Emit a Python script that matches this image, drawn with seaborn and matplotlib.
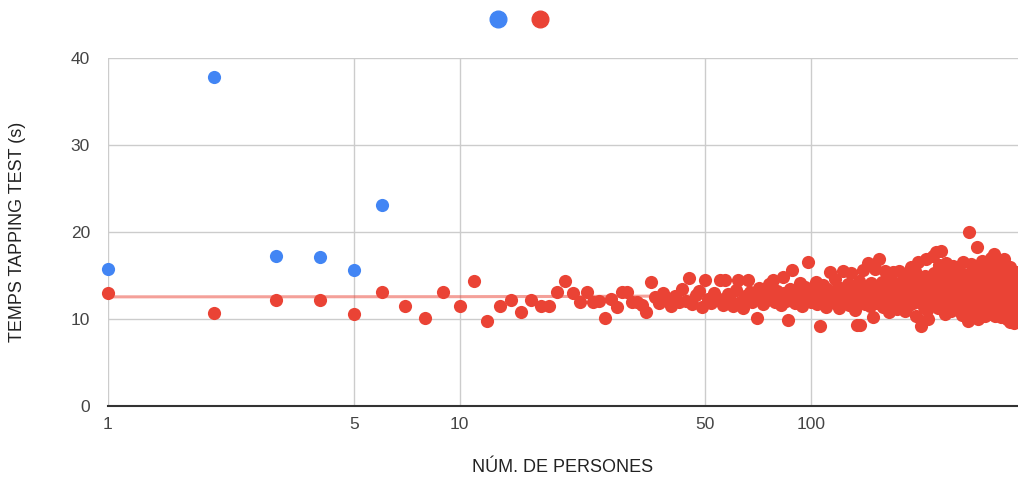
import numpy as np
import pandas as pd
import matplotlib
matplotlib.use("Agg")
import matplotlib.pyplot as plt
from matplotlib.lines import Line2D
import seaborn as sns

# ---------------- data ----------------
blue_x = [1, 2, 3, 4, 5, 6]
blue_y = [15.7, 37.8, 17.2, 17.1, 15.6, 23.1]

red_y = [
    13.0, 10.7, 12.2, 12.2, 10.6, 13.1, 11.5, 10.1, 13.1, 11.5, 14.4, 9.8, 11.5, 12.2, 10.8, 12.2, 11.5, 11.5, 13.1, 14.4,
    13.0, 12.0, 13.1, 12.0, 12.1, 10.1, 12.3, 11.4, 13.1, 13.1, 12.0, 12.0, 11.6, 10.8, 14.3, 12.5, 11.8, 13.0, 12.2, 11.5,
    12.6, 11.9, 13.4, 12.1, 14.7, 11.7, 12.8, 13.2, 11.4, 14.5, 12.3, 11.8, 13.0, 12.4, 14.5, 11.6, 14.5, 12.9, 12.2, 11.5,
    13.3, 14.5, 12.0, 11.3, 12.7, 14.5, 13.1, 11.9, 12.4, 10.1, 13.6, 12.5, 11.7, 13.0, 12.2, 14.0, 12.8, 14.5, 11.9, 13.2,
    12.4, 11.6, 14.8, 13.0, 12.1, 9.9, 13.5, 15.6, 12.3, 11.8, 13.1, 12.6, 14.1, 11.5, 12.9, 13.7, 12.2, 16.6, 12.8, 11.9,
    13.3, 12.5, 14.2, 11.7, 13.0, 9.2, 12.6, 13.9, 12.1, 11.4, 13.5, 12.8, 15.4, 12.3, 11.9, 13.2, 14.6, 12.0, 12.7, 11.3,
    13.6, 12.4, 15.5, 11.8, 13.1, 12.9, 14.0, 11.6, 12.5, 15.3, 13.4, 12.2, 11.0, 13.8, 9.3, 12.7, 14.4, 9.3, 13.0, 12.1,
    15.6, 11.7, 12.9, 13.5, 16.4, 12.3, 11.5, 14.1, 12.8, 10.2, 13.3, 15.8, 12.0, 11.8, 13.7, 16.9, 12.6, 12.2, 14.3, 11.4,
    13.1, 15.5, 12.7, 11.9, 13.9, 12.4, 10.8, 14.6, 13.0, 12.2, 15.4, 11.6, 13.5, 12.8, 14.0, 11.2, 12.9, 15.5, 13.3, 12.1,
    11.7, 14.2, 12.6, 13.8, 10.9, 15.1, 12.3, 13.4, 11.5, 14.7, 12.9, 16.0, 12.0, 13.1, 11.8, 14.4, 12.5, 15.5, 10.4, 13.2,
    12.7, 16.6, 11.9, 13.6, 12.3, 9.2, 14.1, 12.8, 13.3, 11.4, 15.0, 12.6, 16.9, 11.0, 10.0, 13.9, 12.2, 14.5, 12.9, 11.6,
    13.7, 17.2, 12.4, 15.3, 11.8, 13.0, 17.7, 12.5, 14.2, 11.3, 13.6, 16.2, 12.0, 17.8, 12.8, 14.8, 11.5, 13.4, 15.6, 12.2,
    10.6, 16.4, 13.1, 12.6, 14.0, 11.9, 15.2, 12.7, 13.8, 10.9, 14.6, 12.3, 16.1, 13.2, 11.4, 15.0, 12.9, 13.5, 11.1, 14.3,
    12.4, 16.0, 13.0, 11.7, 15.4, 12.8, 14.1, 10.5, 13.6, 12.1, 16.5, 11.8, 14.7, 13.3, 12.5, 15.1, 11.2, 13.9, 12.7, 9.8,
    20.0, 12.3, 14.4, 11.6, 13.1, 16.3, 12.0, 15.2, 13.7, 10.7, 12.8, 14.9, 11.9, 13.4, 15.8, 18.3, 12.6, 10.0, 14.2, 13.0,
    11.5, 15.5, 12.9, 13.6, 10.9, 16.7, 12.2, 14.0, 11.3, 13.3, 15.1, 12.5, 10.4, 14.6, 12.8, 16.1, 11.7, 13.8, 12.1, 15.3,
    13.2, 11.0, 14.5, 12.6, 17.0, 10.6, 13.5, 12.0, 15.6, 11.8, 17.5, 13.1, 10.3, 14.3, 12.4, 16.4, 11.4, 13.7, 12.9, 15.0,
    10.8, 13.9, 12.2, 16.2, 11.6, 14.1, 12.7, 10.2, 15.4, 13.0, 11.9, 14.8, 12.5, 16.9, 10.5, 13.6, 12.3, 15.7, 11.1, 14.2,
    12.8, 10.0, 15.1, 13.4, 11.7, 14.6, 12.1, 9.6, 16.0, 13.2, 11.3, 14.0, 12.6, 15.5, 10.7, 13.8, 12.4, 9.5, 14.9, 12.0,
    13.5, 11.2, 15.2, 12.7, 10.4, 14.4, 13.1, 11.8, 15.4, 12.2, 10.9, 13.7, 14.5, 12.5, 11.5, 13.9, 12.8, 10.6, 14.1, 13.0,
]
red_x = list(range(1, len(red_y) + 1))

x_ticks = [1, 5, 10, 50, 100]
x_tick_labels = ["1", "5", "10", "50", "100"]
y_ticks = [0, 10, 20, 30, 40]

x_title = "NÚM. DE PERSONES"
y_title = "TEMPS TAPPING TEST (s)"

BLUE = "#4285F4"
RED = "#EA4335"

# ---------------- figure ----------------
sns.set_style("white")
plt.rcParams["font.family"] = ["Liberation Sans", "DejaVu Sans"]

W, H = 1018, 480
fig = plt.figure(figsize=(W / 100, H / 100), dpi=100)
ax_left, ax_right = 108 / W, 1.0
ax_bottom, ax_top = (H - 406) / H, (H - 58) / H
ax = fig.add_axes([ax_left, ax_bottom, ax_right - ax_left, ax_top - ax_bottom])

df_blue = pd.DataFrame({"x": blue_x, "y": blue_y})
df_red = pd.DataFrame({"x": red_x, "y": red_y})

ax.set_xscale("log")

# grid
for xv in x_ticks:
    ax.axvline(xv, color="#cccccc", lw=1.0, zorder=0)
for yv in y_ticks[1:]:
    ax.axhline(yv, color="#cccccc", lw=1.0, zorder=0)

# trend line for red series (linear least squares)
coef = np.polyfit(df_red["x"], df_red["y"], 1)
tx = np.linspace(1, 400, 200)
ax.plot(tx, np.polyval(coef, tx), color=RED, alpha=0.5, lw=2.2, zorder=2)

sns.scatterplot(data=df_red, x="x", y="y", color=RED, s=90, linewidth=0,
                ax=ax, zorder=3, clip_on=False, legend=False)
sns.scatterplot(data=df_blue, x="x", y="y", color=BLUE, s=90, linewidth=0,
                ax=ax, zorder=4, clip_on=False, legend=False)

ax.set_xscale("log")
ax.set_xlim(1, 388)
ax.set_ylim(0, 40)

for sp in ["top", "right", "left"]:
    ax.spines[sp].set_visible(False)
ax.spines["bottom"].set_color("#333333")
ax.spines["bottom"].set_linewidth(1.5)
ax.spines["bottom"].set_zorder(5)

ax.set_xticks(x_ticks)
ax.set_xticklabels(x_tick_labels)
ax.xaxis.set_minor_locator(matplotlib.ticker.NullLocator())
ax.set_yticks(y_ticks)
ax.tick_params(axis="x", length=0, pad=8, labelsize=12.5, labelcolor="#444444")
ax.tick_params(axis="y", length=8, width=1, color="#cccccc", pad=5,
               labelsize=12.5, labelcolor="#444444")

ax.set_xlabel(x_title, fontsize=13, color="#222222")
ax.set_ylabel(y_title, fontsize=13, color="#222222")
ax.xaxis.label.set_va("center")
ax.yaxis.label.set_va("center")
ax.xaxis.set_label_coords((563 - 108) / 910, -(468 - 406) / 348)
ax.yaxis.set_label_coords(-(108 - 18) / 910, 0.5)

handles = [
    Line2D([], [], marker="o", linestyle="", markersize=12, color=BLUE),
    Line2D([], [], marker="o", linestyle="", markersize=12, color=RED),
]
fig.legend(handles, ["", ""], loc="center", bbox_to_anchor=(519 / W, 1 - 20 / H),
           ncol=2, frameon=False, handlelength=1.0, handletextpad=0.0,
           columnspacing=1.8, fontsize=11)

fig.savefig("out.png", dpi=100)
